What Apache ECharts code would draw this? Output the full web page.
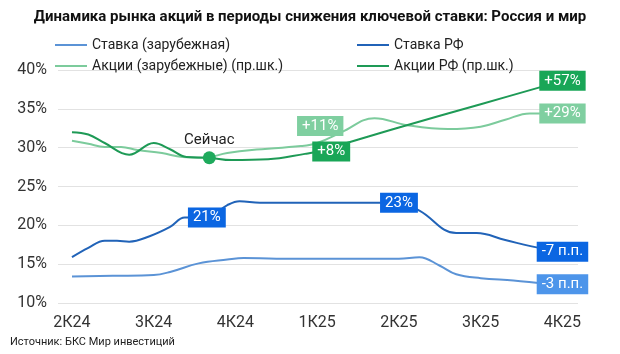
<!DOCTYPE html>
<html>
<head>
<meta charset="utf-8">
<script src="https://cdn.jsdelivr.net/npm/echarts@6/dist/echarts.min.js"></script>
<style>
    html, body { margin: 0; padding: 0; background: #fff; }
    #chart { width: 620px; height: 354px; }
</style>
</head>
<body>
<div id="chart"></div>
<script>
// кварталы по оси X (0 = 2К24 ... 6 = 4К25)
const quarters = ['2К24', '3К24', '4К24', '1К25', '2К25', '3К25', '4К25'];
const yTicks = [10, 15, 20, 25, 30, 35, 40];

// [квартал, %]
const rateForeign = [
    [0, 13.4], [0.5, 13.5], [1.0, 13.6], [1.2, 14.0], [1.55, 15.1], [1.9, 15.6], [2.1, 15.8],
    [2.5, 15.7], [3, 15.7], [4, 15.7], [4.25, 15.9], [4.5, 14.8], [4.7, 13.7], [5.0, 13.2],
    [5.4, 12.9], [5.8, 12.5], [6, 12.4]
];
const rateRF = [
    [0, 15.9], [0.2, 17.1], [0.4, 18.0], [0.55, 18.0], [0.7, 17.9], [0.95, 18.6], [1.2, 19.8],
    [1.38, 21.0], [1.65, 21.0], [1.9, 22.6], [2.05, 23.1], [2.3, 22.9], [3, 22.9], [4, 22.9],
    [4.25, 21.9], [4.7, 19.0], [4.95, 19.0], [5.3, 18.1], [5.75, 17.0], [6, 16.6]
];
const stocksForeign = [
    [0, 30.9], [0.2, 30.5], [0.4, 30.1], [0.6, 30.1], [0.8, 29.7], [1.1, 29.3], [1.35, 28.8],
    [1.6, 28.7], [1.9, 29.3], [2.2, 29.7], [2.8, 30.2], [3.0, 30.6], [3.3, 32.0], [3.7, 33.8],
    [4.1, 32.9], [4.6, 32.4], [5.0, 32.7], [5.3, 33.6], [5.6, 34.4], [6, 34.4]
];
const stocksRF = [
    [0, 32.0], [0.2, 31.7], [0.4, 30.6], [0.7, 29.1], [1.0, 30.6], [1.2, 29.8], [1.4, 28.8],
    [1.68, 28.7], [1.95, 28.4], [2.4, 28.5], [2.85, 29.2], [3, 29.5], [4, 32.6], [5, 35.6], [6, 38.6]
];

// подписи: [индекс точки, текст]
const labelsRateForeign = [[16, '-3 п.п.']];
const labelsRateRF = [[8, '21%'], [13, '23%'], [19, '-7 п.п.']];
const labelsStocksForeign = [[11, '+11%'], [19, '+29%']];
const labelsStocksRF = [[11, '+8%'], [14, '+57%']];
const nowIndex = 7;

const FONT = 'Roboto';
const DARK_BLUE = '#0b66e2';
const LIGHT_BLUE = '#4d95ea';
const DARK_GREEN = '#19a657';
const LIGHT_GREEN = '#7fcfa0';

function box(text, bg, offset) {
    return {
        show: true,
        position: 'inside',
        formatter: text,
        color: '#fff',
        fontSize: 15,
        fontFamily: FONT,
        backgroundColor: bg,
        padding: [3, 5, 2, 5],
        offset: offset || [0, 0],
    };
}

function build(points, labels, bg, offsets) {
    return points.map((p, i) => {
        const l = labels.find(x => x[0] === i);
        if (!l) return { value: p };
        return { value: p, label: box(l[1], bg, offsets && offsets[i]) };
    });
}

const rfStocksData = build(stocksRF, labelsStocksRF, DARK_GREEN, { 11: [14, 0] });
rfStocksData[nowIndex] = {
    value: stocksRF[nowIndex],
    symbolSize: 13,
    itemStyle: { color: '#1eaa5c' },
    label: {
        show: true,
        position: 'top',
        distance: 4,
        formatter: 'Сейчас',
        color: '#222',
        fontSize: 15,
        fontFamily: FONT,
    },
};

const base = {
    type: 'line',
    smooth: 0.4,
    symbol: 'circle',
    symbolSize: 0,
    showSymbol: true,
    showAllSymbol: true,
    lineStyle: { width: 2 },
    emphasis: { disabled: true },
};

const legendBase = {
    orient: 'vertical',
    top: 33,
    itemGap: 7,
    itemWidth: 32,
    itemHeight: 2,
    icon: 'rect',
    textStyle: { fontSize: 14, color: '#222', fontFamily: FONT },
};

const option = {
    animation: false,
    title: {
        text: 'Динамика рынка акций в периоды снижения ключевой ставки: Россия и мир',
        left: 'center',
        top: 5,
        textStyle: { fontSize: 15, fontWeight: 'bold', color: '#111', fontFamily: FONT },
    },
    legend: [
        Object.assign({}, legendBase, {
            left: 50,
            data: ['Ставка (зарубежная)', 'Акции (зарубежные) (пр.шк.)'],
        }),
        Object.assign({}, legendBase, {
            left: 352,
            data: ['Ставка РФ', 'Акции РФ (пр.шк.)'],
        }),
    ],
    grid: { left: 58, right: 42, top: 70, bottom: 51 },
    xAxis: {
        type: 'value',
        min: -0.171,
        max: 6.19,
        axisLine: { show: false },
        axisTick: { show: false },
        splitLine: { show: false },
        axisLabel: {
            customValues: [0, 1, 2, 3, 4, 5, 6],
            formatter: v => quarters[Math.round(v)],
            fontSize: 16,
            color: '#333',
            margin: 12,
            fontFamily: FONT,
        },
    },
    yAxis: {
        type: 'value',
        min: 10,
        max: 40,
        interval: 5,
        axisLine: { show: false },
        axisTick: { show: false },
        axisLabel: {
            formatter: '{value}%',
            fontSize: 16,
            color: '#333',
            margin: 11,
            fontFamily: FONT,
        },
        splitLine: { lineStyle: { color: '#e2e2e2', width: 1.2 } },
    },
    graphic: [
        {
            type: 'text',
            left: 10,
            top: 337,
            style: { text: 'Источник: БКС Мир инвестиций', fontSize: 11, fill: '#222', fontFamily: FONT },
        },
    ],
    series: [
        Object.assign({}, base, {
            name: 'Ставка (зарубежная)',
            color: '#5b93d6',
            data: build(rateForeign, labelsRateForeign, LIGHT_BLUE),
        }),
        Object.assign({}, base, {
            name: 'Ставка РФ',
            color: '#2163b8',
            data: build(rateRF, labelsRateRF, DARK_BLUE),
        }),
        Object.assign({}, base, {
            name: 'Акции (зарубежные) (пр.шк.)',
            color: '#7ccb9c',
            data: build(stocksForeign, labelsStocksForeign, LIGHT_GREEN, { 11: [3, -17] }),
        }),
        Object.assign({}, base, {
            name: 'Акции РФ (пр.шк.)',
            color: '#1e9a56',
            data: rfStocksData,
        }),
    ],
};

const chart = echarts.init(document.getElementById('chart'));
chart.setOption(option);
</script>
</body>
</html>
